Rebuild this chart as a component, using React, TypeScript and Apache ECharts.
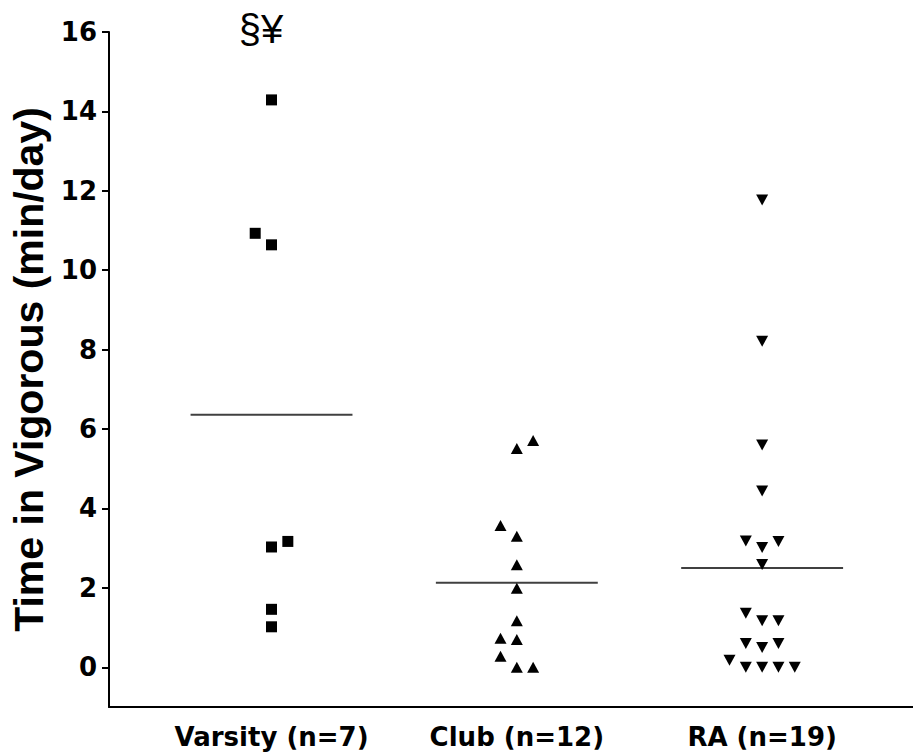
import React, { useEffect, useRef } from "react";
import * as echarts from "echarts";

// Category labels
const categories = ["Varsity (n=7)", "Club (n=12)", "RA (n=19)"];

// Values (min/day), with their horizontal jitter slot
const varsityValues = [14.29, 10.93, 10.64, 3.17, 3.03, 1.46, 1.02];
const varsitySlots = [0, -1, 0, 1, 0, 0, 0];

const clubValues = [5.71, 5.51, 3.57, 3.3, 2.58, 1.99, 1.17, 0.73, 0.7, 0.28, 0, 0];
const clubSlots = [1, 0, -1, 0, 0, 0, 0, -1, 0, -1, 0, 1];

const raValues = [11.77, 8.21, 5.6, 4.44, 3.18, 3.02, 3.17, 2.59, 1.36, 1.17, 1.17, 0.6, 0.5, 0.6, 0.18, 0, 0, 0, 0];
const raSlots = [0, 0, 0, 0, -1, 0, 1, 0, -1, 0, 1, -1, 0, 1, -2, -1, 0, 1, 2];

// Y axis tick labels
const yTicks = [0, 2, 4, 6, 8, 10, 12, 14, 16];

const annotation = "§¥";

const WIDE = "'DejaVu Sans', sans-serif";
const FONT = "'Liberation Sans', Arial, sans-serif";
const SLOT = 0.0665;
const HALF = 0.33;

const mean = (a: number[]) => a.reduce((s, v) => s + v, 0) / a.length;

export default function App() {
  const ref = useRef<HTMLDivElement>(null);
  useEffect(() => {
    document.body.style.margin = "0";
    if (!ref.current) return;
    const chart = echarts.init(ref.current, null, { renderer: "svg" });

    const groups = [
      { values: varsityValues, slots: varsitySlots, symbol: "rect", size: [11, 11], rotate: 0 },
      { values: clubValues, slots: clubSlots, symbol: "triangle", size: [12, 11], rotate: 0 },
      { values: raValues, slots: raSlots, symbol: "triangle", size: [12, 11], rotate: 180 },
    ];

    const series: any[] = [];
    groups.forEach((g, gi) => {
      const c = gi + 1;
      const m = mean(g.values);
      series.push({
        type: "line",
        data: [
          [c - HALF, m],
          [c + HALF, m],
        ],
        symbol: "none",
        lineStyle: { color: "#404040", width: 2 },
        z: 1,
        silent: true,
      });
      series.push({
        type: "scatter",
        data: g.values.map((v, i) => [c + g.slots[i] * SLOT, v]),
        symbol: g.symbol,
        symbolSize: g.size,
        symbolRotate: g.rotate,
        itemStyle: { color: "#000", opacity: 1 },
        z: 3,
      });
    });

    chart.setOption({
      animation: false,
      grid: { left: 109, top: 32, right: 0, bottom: 46 },
      xAxis: {
        type: "value",
        min: 0.3375,
        max: 3.615,
        splitLine: { show: false },
        axisTick: { show: false },
        axisLine: { onZero: false, lineStyle: { color: "#000", width: 2 } },
        axisLabel: {
          customValues: [1, 2, 3],
          formatter: (v: number) => categories[Math.round(v) - 1] ?? "",
          color: "#000",
          fontFamily: WIDE,
          fontWeight: "bold",
          fontSize: 26,
          margin: 17,
        },
      },
      yAxis: {
        type: "value",
        min: -1,
        max: 16,
        splitLine: { show: false },
        axisLine: { show: true, lineStyle: { color: "#000", width: 2 } },
        axisTick: {
          show: true,
          customValues: yTicks,
          length: 7,
          lineStyle: { color: "#000", width: 2 },
        },
        axisLabel: {
          customValues: yTicks,
          color: "#000",
          fontFamily: WIDE,
          fontWeight: "bold",
          fontSize: 26,
          margin: 12,
        },
        name: "Time in Vigorous (min/day)",
        nameLocation: "middle",
        nameGap: 57,
        nameTextStyle: {
          color: "#000",
          fontFamily: FONT,
          fontWeight: "bold",
          fontSize: 41,
        },
      },
      graphic: [
        {
          type: "text",
          x: 261,
          y: 29,
          style: {
            text: annotation,
            fontFamily: FONT,
            fontSize: 40,
            fill: "#000",
            align: "center",
            verticalAlign: "middle",
          },
        },
      ],
      series,
    });
    return () => chart.dispose();
  }, []);
  return <div ref={ref} style={{ width: 913, height: 753 }} />;
}
